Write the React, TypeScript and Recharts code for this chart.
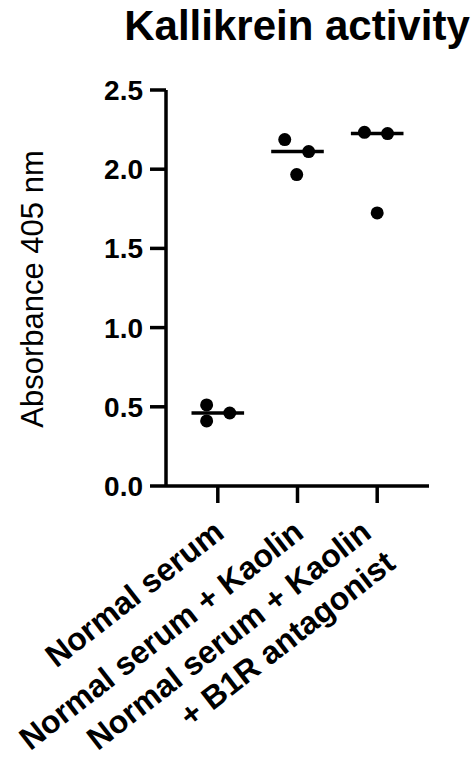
import React from "react";
import {
  ScatterChart,
  Scatter,
  XAxis,
  YAxis,
  ReferenceLine,
} from "recharts";

const FONT = "'Liberation Sans', Arial, sans-serif";

// group labels (one array of lines per tick)
const groupLabels = [
  ["Normal serum"],
  ["Normal serum + Kaolin"],
  ["Normal serum + Kaolin", "+ B1R antagonist"],
];

// absorbance values
const normalSerum = [0.512, 0.411, 0.461];
const serumKaolin = [2.187, 1.966, 2.111];
const serumKaolinB1R = [2.233, 2.225, 1.724];

// horizontal scatter of the dots around each group
const jitterNormal = [-0.14, -0.14, 0.15];
const jitterKaolin = [-0.16, -0.01, 0.14];
const jitterB1R = [-0.16, 0.13, 0];

const yTicks = [0, 0.5, 1.0, 1.5, 2.0, 2.5];

const groups = [normalSerum, serumKaolin, serumKaolinB1R];
const jitters = [jitterNormal, jitterKaolin, jitterB1R];

const points = groups.flatMap((vals, gi) =>
  vals.map((v, i) => ({ x: gi + 1 + jitters[gi][i], y: v }))
);

const median = (vals: number[]) => {
  const s = [...vals].sort((a, b) => a - b);
  return s[Math.floor(s.length / 2)];
};

const LABEL_SIZE = 32;
const ANGLE = -38;

const GroupTick = (props: any) => {
  const { x, y, payload } = props;
  const lines = groupLabels[Math.round(payload.value) - 1] || [];
  // two-line labels sit a little to the left
  const shift = lines.length > 1 ? -12 : 0;
  return (
    <g transform={`translate(${x + 8 + shift},${y + 33}) rotate(${ANGLE})`}>
      {lines.map((line, i) => (
        <text
          key={i}
          x={0}
          y={i * 39}
          textAnchor="end"
          fontSize={LABEL_SIZE}
          fontWeight="bold"
          fontFamily={FONT}
          fill="#000"
        >
          {line}
        </text>
      ))}
    </g>
  );
};

const Dot = (props: any) => (
  <circle cx={props.cx} cy={props.cy} r={6.5} fill="#000" />
);

export default function App() {
  return (
    <div
      style={{
        position: "absolute",
        left: 0,
        top: 0,
        width: 475,
        height: 762,
        background: "#fff",
      }}
    >
      <ScatterChart
        width={475}
        height={762}
        margin={{ top: 90, right: 46, bottom: 0, left: 0 }}
      >
        <XAxis
          type="number"
          dataKey="x"
          domain={[0.35, 3.65]}
          ticks={[1, 2, 3]}
          height={276}
          tickSize={17}
          tickMargin={0}
          axisLine={{ stroke: "#000", strokeWidth: 3.5 }}
          tickLine={{ stroke: "#000", strokeWidth: 3.5 }}
          tick={<GroupTick />}
          interval={0}
        />
        <YAxis
          type="number"
          dataKey="y"
          domain={[0, 2.5]}
          ticks={yTicks}
          width={166}
          tickSize={16}
          tickMargin={7}
          tickFormatter={(v: number) => v.toFixed(1)}
          axisLine={{ stroke: "#000", strokeWidth: 3.5 }}
          tickLine={{ stroke: "#000", strokeWidth: 3.5 }}
          tick={{
            fontSize: 28,
            fontWeight: "bold",
            fill: "#000",
            fontFamily: FONT,
          }}
          interval={0}
        />
        {groups.map((vals, gi) => (
          <ReferenceLine
            key={gi}
            segment={[
              { x: gi + 1 - 0.33, y: median(vals) },
              { x: gi + 1 + 0.33, y: median(vals) },
            ]}
            stroke="#000"
            strokeWidth={3.5}
            ifOverflow="visible"
          />
        ))}
        <Scatter
          data={points}
          shape={<Dot />}
          isAnimationActive={false}
        />
      </ScatterChart>
      <svg
        width={475}
        height={762}
        style={{ position: "absolute", left: 0, top: 0, pointerEvents: "none" }}
      >
        <text
          x={297}
          y={40}
          textAnchor="middle"
          fontSize={42}
          fontWeight="bold"
          fontFamily={FONT}
          fill="#000"
        >
          Kallikrein activity
        </text>
        <text
          x={43}
          y={289}
          transform="rotate(-90 43 289)"
          textAnchor="middle"
          fontSize={31}
          fontFamily={FONT}
          fill="#000"
        >
          Absorbance 405 nm
        </text>
      </svg>
    </div>
  );
}
